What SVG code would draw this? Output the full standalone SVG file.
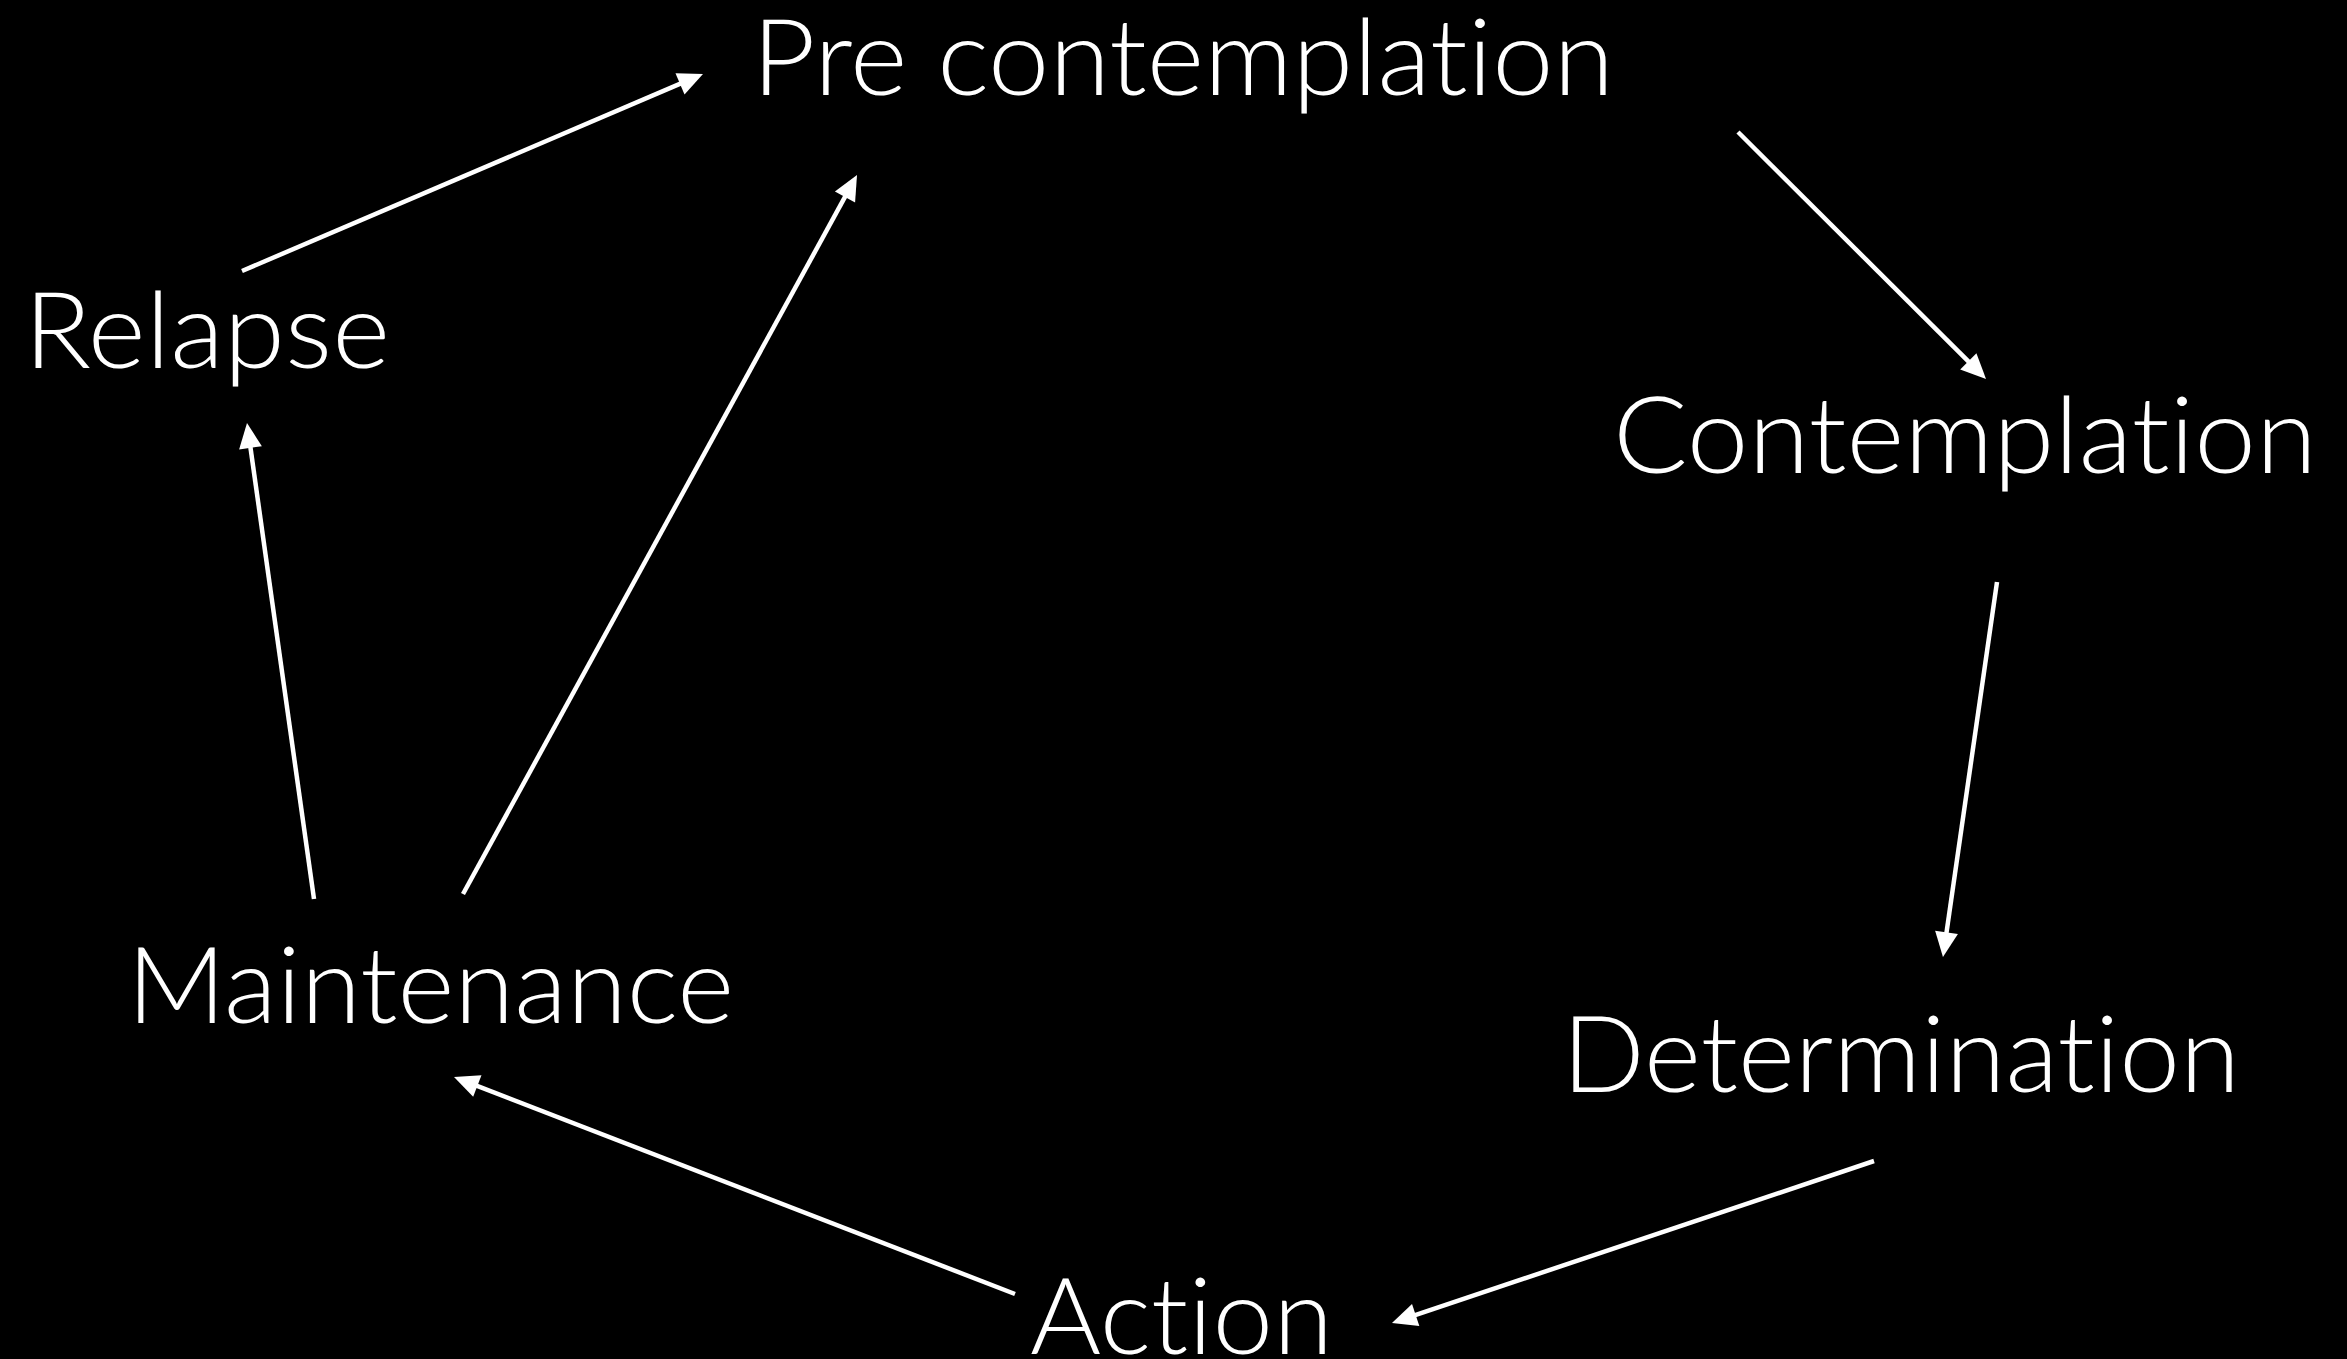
<svg xmlns="http://www.w3.org/2000/svg" width="2347" height="1359" viewBox="0 0 2347 1359">
  <style>
    .lbl { font-family: "Lato", "Open Sans", "Liberation Sans", sans-serif; font-weight: 300; font-size: 106px; fill: #ffffff; font-variant-ligatures: none; font-feature-settings: "liga" 0, "clig" 0, "dlig" 0; }
    .conn { stroke: #ffffff; stroke-width: 4.5; fill: none; marker-end: url(#arrow); }
  </style>
  <defs>
    <marker id="arrow" markerUnits="userSpaceOnUse" markerWidth="26" markerHeight="24" refX="10" refY="11.5" orient="auto" overflow="visible">
      <path d="M0,0 L25,11.5 L0,23 z" fill="#ffffff"/>
    </marker>
  </defs>
  <rect x="0" y="0" width="2347" height="1359" fill="#000000"/>
  <g id="connectors">
    <line class="conn" x1="242" y1="271" x2="689.2" y2="79.9"/>
    <line class="conn" x1="1738" y1="132" x2="1975.4" y2="368.4"/>
    <line class="conn" x1="1997" y1="582" x2="1945.1" y2="942.2"/>
    <line class="conn" x1="1874" y1="1161" x2="1406.2" y2="1318.2"/>
    <line class="conn" x1="1015" y1="1294" x2="468" y2="1082.4"/>
    <line class="conn" x1="314" y1="899" x2="249.1" y2="437.9"/>
    <line class="conn" x1="463" y1="894" x2="849.8" y2="188.2"/>
  </g>
  <g id="node-precontemplation"><text class="lbl" x="752" y="95" textLength="862" lengthAdjust="spacingAndGlyphs">Pre contemplation</text></g>
  <g id="node-contemplation"><text class="lbl" x="1613" y="473" textLength="704" lengthAdjust="spacingAndGlyphs">Contemplation</text></g>
  <g id="node-determination"><text class="lbl" x="1562" y="1092" textLength="678" lengthAdjust="spacingAndGlyphs">Determination</text></g>
  <g id="node-action"><text class="lbl" x="1030" y="1354" textLength="303" lengthAdjust="spacingAndGlyphs">Action</text></g>
  <g id="node-maintenance"><text class="lbl" x="127" y="1023" textLength="607" lengthAdjust="spacingAndGlyphs">Maintenance</text></g>
  <g id="node-relapse"><text class="lbl" x="24" y="368" textLength="366" lengthAdjust="spacingAndGlyphs">Relapse</text></g>
</svg>
